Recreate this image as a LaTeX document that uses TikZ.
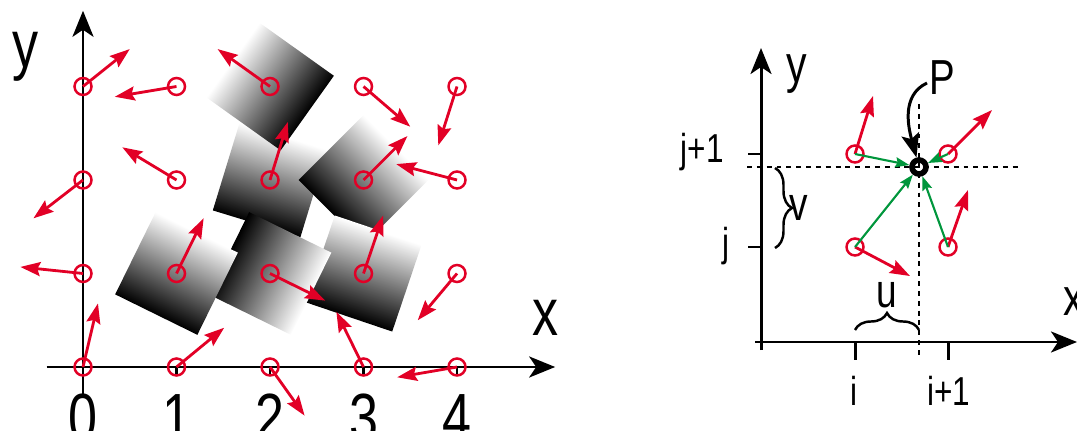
\documentclass[tikz,border=0pt]{standalone}
\usepackage{fontspec}
\setmainfont{Liberation Sans}[FakeStretch=0.78]
\usetikzlibrary{arrows.meta,decorations.pathreplacing}
\definecolor{gradred}{RGB}{226,0,38}
\definecolor{gradgreen}{RGB}{0,150,60}
\tikzset{
  lattice/.style={circle, draw=gradred, line width=0.7pt, minimum size=1.7mm, inner sep=0pt},
  gradvec/.style={draw=gradred, line width=0.8pt, -{Stealth[length=2mm,width=1.4mm,inset=0.3mm]}},
  offvec/.style={draw=gradgreen, line width=0.6pt, -{Stealth[length=1.4mm,width=1mm,inset=0.2mm]}},
  axis/.style={line width=0.85pt, -{Stealth[length=2.6mm,width=2.1mm,inset=0.7mm]}},
  pointer/.style={line width=0.85pt, -{Stealth[length=2.4mm,width=1.8mm,inset=0.5mm]}},
  tile/.style={left color=black, right color=white},
  guide/.style={line width=0.6pt, dash pattern=on 1.4pt off 1.4pt},
  bigtext/.style={font=\fontsize{19}{22}\selectfont},
  midtext/.style={font=\fontsize{15}{18}\selectfont},
  smalltext/.style={font=\fontsize{11.5}{14}\selectfont},
}

\begin{document}
\begin{tikzpicture}
\useasboundingbox (0,0) rectangle (10.77,4.30);

% left: shaded cells, turned along their gradient
\begin{scope}[transform canvas={shift={(2.70,2.50)}, rotate=73}]
\shade[tile] (-0.458,-0.458) rectangle (0.458,0.458);
\end{scope}
\begin{scope}[transform canvas={shift={(2.70,3.435)}, rotate=144.5}]
\shade[tile] (-0.458,-0.458) rectangle (0.458,0.458);
\end{scope}
\begin{scope}[transform canvas={shift={(3.635,2.50)}, rotate=45}]
\shade[tile] (-0.458,-0.458) rectangle (0.458,0.458);
\end{scope}
\begin{scope}[transform canvas={shift={(3.635,1.565)}, rotate=71.3}]
\shade[tile] (-0.458,-0.458) rectangle (0.458,0.458);
\end{scope}
\begin{scope}[transform canvas={shift={(2.70,1.565)}, rotate=-26.2}]
\shade[tile] (-0.458,-0.458) rectangle (0.458,0.458);
\end{scope}
\begin{scope}[transform canvas={shift={(1.765,1.565)}, rotate=63.8}]
\shade[tile] (-0.458,-0.458) rectangle (0.458,0.458);
\end{scope}

% left: lattice with gradient vectors
\begin{scope}[shift={(0.83,0.63)}, x=0.935cm, y=0.935cm]
\coordinate (ybot) at (0,-0.32);
\coordinate (ytop) at (0,3.81);
\coordinate (xleft) at (-0.39,0);
\coordinate (xright) at (5.05,0);
\draw[axis] (ybot) -- (ytop);
\draw[axis] (xleft) -- (xright);
\draw[line width=0.6pt] (1,0) -- (1,-0.07) (2,0) -- (2,-0.07) (3,0) -- (3,-0.07) (4,0) -- (4,-0.07);

\node[bigtext, anchor=base] (ylab) at (-0.62,3.20) {y};
\node[bigtext, anchor=base] (xlab) at (4.95,0.34) {x};
\node[bigtext, anchor=base] (n0) at (0,-0.79) {0};
\node[bigtext, anchor=base] (n1) at (1,-0.79) {1};
\node[bigtext, anchor=base] (n2) at (2,-0.79) {2};
\node[bigtext, anchor=base] (n3) at (3,-0.79) {3};
\node[bigtext, anchor=base] (n4) at (4,-0.79) {4};

\node[lattice] (g03) at (0,3) {};
\node[lattice] (g13) at (1,3) {};
\node[lattice] (g23) at (2,3) {};
\node[lattice] (g33) at (3,3) {};
\node[lattice] (g43) at (4,3) {};
\node[lattice] (g02) at (0,2) {};
\node[lattice] (g12) at (1,2) {};
\node[lattice] (g22) at (2,2) {};
\node[lattice] (g32) at (3,2) {};
\node[lattice] (g42) at (4,2) {};
\node[lattice] (g01) at (0,1) {};
\node[lattice] (g11) at (1,1) {};
\node[lattice] (g21) at (2,1) {};
\node[lattice] (g31) at (3,1) {};
\node[lattice] (g41) at (4,1) {};
\node[lattice] (g00) at (0,0) {};
\node[lattice] (g10) at (1,0) {};
\node[lattice] (g20) at (2,0) {};
\node[lattice] (g30) at (3,0) {};
\node[lattice] (g40) at (4,0) {};

\coordinate (t03) at (0.50,3.40);
\coordinate (t13) at (0.34,2.89);
\coordinate (t23) at (1.44,3.40);
\coordinate (t33) at (3.50,2.57);
\coordinate (t43) at (3.80,2.37);
\coordinate (t02) at (-0.53,1.59);
\coordinate (t12) at (0.42,2.35);
\coordinate (t22) at (2.19,2.62);
\coordinate (t32) at (3.47,2.47);
\coordinate (t42) at (3.35,2.17);
\coordinate (t01) at (-0.67,1.07);
\coordinate (t11) at (1.29,1.59);
\coordinate (t21) at (2.59,0.71);
\coordinate (t31) at (3.21,1.62);
\coordinate (t41) at (3.58,0.50);
\coordinate (t00) at (0.16,0.68);
\coordinate (t10) at (1.51,0.42);
\coordinate (t20) at (2.37,-0.52);
\coordinate (t30) at (2.71,0.59);
\coordinate (t40) at (3.36,-0.11);

\draw[gradvec] (g03.center) -- (t03);
\draw[gradvec] (g13.center) -- (t13);
\draw[gradvec] (g23.center) -- (t23);
\draw[gradvec] (g33.center) -- (t33);
\draw[gradvec] (g43.center) -- (t43);
\draw[gradvec] (g02.center) -- (t02);
\draw[gradvec] (g12.center) -- (t12);
\draw[gradvec] (g22.center) -- (t22);
\draw[gradvec] (g32.center) -- (t32);
\draw[gradvec] (g42.center) -- (t42);
\draw[gradvec] (g01.center) -- (t01);
\draw[gradvec] (g11.center) -- (t11);
\draw[gradvec] (g21.center) -- (t21);
\draw[gradvec] (g31.center) -- (t31);
\draw[gradvec] (g41.center) -- (t41);
\draw[gradvec] (g00.center) -- (t00);
\draw[gradvec] (g10.center) -- (t10);
\draw[gradvec] (g20.center) -- (t20);
\draw[gradvec] (g30.center) -- (t30);
\draw[gradvec] (g40.center) -- (t40);
\end{scope}

% right: one cell and the point P
\coordinate (ry0) at (7.61,0.80);
\coordinate (ry1) at (7.61,3.82);
\coordinate (rx0) at (7.55,0.88);
\coordinate (rx1) at (10.77,0.88);
\draw[axis] (ry0) -- (ry1);
\draw[axis] (rx0) -- (rx1);
\draw[line width=0.85pt] (8.55,0.88) -- (8.55,0.70) (9.48,0.88) -- (9.48,0.70);
\draw[line width=0.85pt] (7.48,2.76) -- (7.61,2.76) (7.48,1.83) -- (7.61,1.83);

\coordinate (hl) at (7.47,2.63);
\coordinate (hr) at (10.20,2.63);
\coordinate (vt) at (9.19,3.26);
\coordinate (vb) at (9.19,0.75);
\draw[guide] (hl) -- (hr);
\draw[guide] (vt) -- (vb);

\node[smalltext, anchor=base east] (lj1) at (7.36,2.67) {j+1};
\node[smalltext, anchor=base east] (lj) at (7.42,1.73) {j};
\node[smalltext, anchor=base] (li) at (8.54,0.25) {i};
\node[smalltext, anchor=base] (li1) at (9.49,0.25) {i+1};
\node[midtext, anchor=base] (rylab) at (7.97,3.47) {y};
\node[midtext, anchor=base] (rxlab) at (10.74,1.15) {x};
\node[font=\fontsize{14}{16}\selectfont] (plab) at (9.42,3.52) {P};
\node[font=\fontsize{13.5}{16}\selectfont] (ulab) at (8.87,1.35) {u};
\node[font=\fontsize{13.5}{16}\selectfont] (vlab) at (7.99,2.22) {v};

\draw[decorate, decoration={brace, amplitude=1.7mm}, line width=0.7pt] (7.75,2.62) -- (7.75,1.82);
\draw[decorate, decoration={brace, amplitude=1.7mm}, line width=0.7pt] (8.55,1.00) -- (9.19,1.00);

\node[lattice] (c01) at (8.55,2.76) {};
\node[lattice] (c11) at (9.48,2.76) {};
\node[lattice] (c00) at (8.55,1.83) {};
\node[lattice] (c10) at (9.48,1.83) {};
\node[circle, draw, line width=1.6pt, minimum size=1.4mm, inner sep=0pt] (P) at (9.19,2.63) {};

\coordinate (r01) at (8.73,3.34);
\coordinate (r11) at (9.92,3.20);
\coordinate (r00) at (9.10,1.54);
\coordinate (r10) at (9.68,2.40);
\draw[gradvec] (c01.center) -- (r01);
\draw[gradvec] (c11.center) -- (r11);
\draw[gradvec] (c00.center) -- (r00);
\draw[gradvec] (c10.center) -- (r10);

\draw[offvec] (c01.center) -- (P);
\draw[offvec] (c11.center) -- (P);
\draw[offvec] (c00.center) -- (P);
\draw[offvec] (c10.center) -- (P);

\coordinate (pfrom) at (9.27,3.47);
\draw[pointer] (pfrom) to[out=205, in=105] (P);
\end{tikzpicture}
\end{document}
